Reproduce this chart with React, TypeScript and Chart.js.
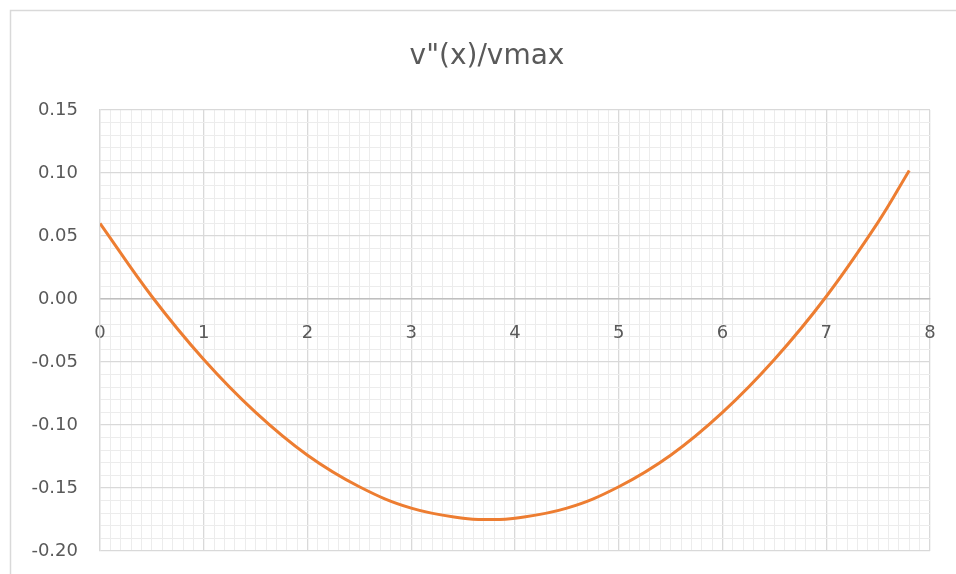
import React, { useEffect, useRef } from 'react';
import { Chart, registerables } from 'chart.js';

Chart.register(...registerables);

const TITLE = 'v"(x)/vmax';

// x positions along the beam and the curve value
const xValues = [0, 0.5, 1, 1.5, 2, 2.5, 3, 3.5, 3.75, 4, 4.5, 5, 5.5, 6, 6.5, 7, 7.5, 7.8];
const yValues = [0.06, 0.002, -0.048, -0.09, -0.124, -0.149, -0.166, -0.174, -0.175, -0.174, -0.166, -0.149, -0.124, -0.09, -0.048, 0.002, 0.061, 0.102];

const xTickLabels = ['0', '1', '2', '3', '4', '5', '6', '7', '8'];
const yTickLabels = ['-0.20', '-0.15', '-0.10', '-0.05', '0.00', '0.05', '0.10', '0.15'];

const X_MIN = 0;
const X_MAX = 8;
const X_MAJOR = 1;
const X_MINOR = 0.1;
const Y_MIN = -0.2;
const Y_MAX = 0.15;
const Y_MAJOR = 0.05;
const Y_MINOR = 0.01;

const TEXT = '#595959';
const MAJOR_GRID = '#d9d9d9';
const MINOR_GRID = '#ececec';
const FONT = '"DejaVu Sans", sans-serif';

const majorIndex = (v: number, min: number, step: number) => {
  const r = (v - min) / step;
  const i = Math.round(r);
  return Math.abs(r - i) < 1e-6 ? i : -1;
};

const frameAndTitle = {
  id: 'frameAndTitle',
  beforeDraw(chart: any) {
    const ctx = chart.ctx;
    ctx.save();
    ctx.strokeStyle = '#d9d9d9';
    ctx.lineWidth = 1.5;
    ctx.strokeRect(10.5, 10.5, 1200, 1200);
    ctx.restore();
  },
  afterDraw(chart: any) {
    const ctx = chart.ctx;
    ctx.save();
    ctx.font = `28px ${FONT}`;
    ctx.fillStyle = TEXT;
    ctx.textAlign = 'center';
    ctx.textBaseline = 'middle';
    ctx.fillText(TITLE, 487, 57);
    ctx.restore();
  },
};

export default function App() {
  const ref = useRef<HTMLCanvasElement | null>(null);

  useEffect(() => {
    if (!ref.current) return;
    const data = xValues.map((x, i) => ({ x, y: yValues[i] }));
    const chart = new Chart(ref.current, {
      type: 'scatter',
      data: {
        datasets: [
          {
            label: TITLE,
            data,
            showLine: true,
            borderColor: '#ED7D31',
            backgroundColor: '#ED7D31',
            borderWidth: 3,
            pointRadius: 0,
            tension: 0.4,
            fill: false,
          },
        ],
      },
      options: {
        responsive: false,
        animation: false,
        layout: { autoPadding: false, padding: { left: 0, top: 110, right: 26, bottom: 23 } },
        plugins: {
          legend: { display: false },
          tooltip: { enabled: false },
          title: { display: false },
        },
        scales: {
          x: {
            type: 'linear',
            position: { y: 0 } as any,
            min: X_MIN,
            max: X_MAX,
            afterFit: (s: any) => {
              s.paddingLeft = 0;
              s.paddingRight = 0;
              s.paddingTop = 0;
              s.paddingBottom = 0;
            },
            border: { display: true, color: '#bfbfbf', width: 1.5 },
            grid: {
              drawTicks: false,
              color: (c: any) => (majorIndex(c.tick.value, X_MIN, X_MAJOR) >= 0 ? MAJOR_GRID : MINOR_GRID),
              lineWidth: (c: any) => (majorIndex(c.tick.value, X_MIN, X_MAJOR) >= 0 ? 1.3 : 1),
            },
            ticks: {
              stepSize: X_MINOR,
              autoSkip: false,
              maxRotation: 0,
              padding: 24,
              color: TEXT,
              font: { family: FONT, size: 18 },
              callback: (v: any) => {
                const i = majorIndex(Number(v), X_MIN, X_MAJOR);
                return i >= 0 ? xTickLabels[i] : '';
              },
            },
          },
          y: {
            type: 'linear',
            position: 'left',
            min: Y_MIN,
            max: Y_MAX,
            afterFit: (s: any) => {
              s.width = 100;
              s.paddingLeft = 0;
              s.paddingRight = 0;
              s.paddingTop = 0;
              s.paddingBottom = 0;
            },
            border: { display: true, color: MAJOR_GRID, width: 1.3 },
            grid: {
              drawTicks: false,
              color: (c: any) => (majorIndex(c.tick.value, Y_MIN, Y_MAJOR) >= 0 ? MAJOR_GRID : MINOR_GRID),
              lineWidth: (c: any) => (majorIndex(c.tick.value, Y_MIN, Y_MAJOR) >= 0 ? 1.3 : 1),
            },
            ticks: {
              stepSize: Y_MINOR,
              autoSkip: false,
              padding: 22,
              color: TEXT,
              font: { family: FONT, size: 18 },
              callback: (v: any) => {
                const i = majorIndex(Number(v), Y_MIN, Y_MAJOR);
                return i >= 0 ? yTickLabels[i] : '';
              },
            },
          },
        },
      },
      plugins: [frameAndTitle],
    } as any);
    return () => chart.destroy();
  }, []);

  return (
    <div style={{ position: 'absolute', left: 0, top: 0, width: 956, height: 574, background: '#fff' }}>
      <canvas ref={ref} width={956} height={574} style={{ display: 'block', width: 956, height: 574 }} />
    </div>
  );
}
